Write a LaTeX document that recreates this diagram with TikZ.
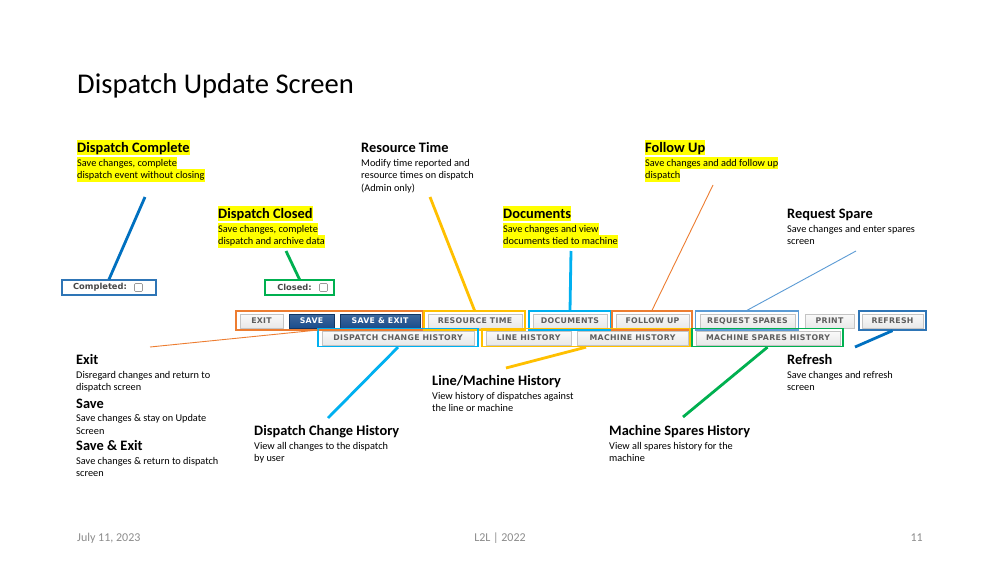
\documentclass[tikz,border=0pt]{standalone}
\usepackage{fontspec}
\setmainfont{Carlito}
\newfontfamily\btnfont{DejaVu Sans}[LetterSpace=4]
\newfontfamily\chkfont{DejaVu Sans}
\definecolor{hlyellow}{HTML}{FFFF00}
\definecolor{corange}{HTML}{ED7D31}
\definecolor{cgold}{HTML}{FFC000}
\definecolor{clblue}{HTML}{00B0F0}
\definecolor{csteel}{HTML}{5B9BD5}
\definecolor{cblue}{HTML}{2E75B6}
\definecolor{cdblue}{HTML}{0070C0}
\definecolor{cgreen}{HTML}{00B050}
\definecolor{btnblue}{HTML}{1B4D8C}
\definecolor{btntext}{HTML}{5E5E5E}
\definecolor{btnedge}{HTML}{C4C4C4}
\definecolor{footgray}{HTML}{8C8C8C}
\setlength{\fboxsep}{0pt}
\newcommand\hlh[1]{\colorbox{hlyellow}{\rule[-3pt]{0pt}{15pt}#1}}
\newcommand\hl[1]{\colorbox{hlyellow}{\rule[-3pt]{0pt}{12.5pt}#1}}
\newcommand\nl[1]{\rule[-3pt]{0pt}{12.5pt}#1}
\tikzset{
  head/.style={anchor=base west, inner sep=0pt, font=\fontsize{14.4}{15}\selectfont\bfseries},
  body/.style={anchor=north west, inner sep=0pt, align=left, font=\fontsize{10.3}{12.5}\selectfont},
  btn/.style={draw=btnedge, line width=0.6pt, top color=white!96!gray, bottom color=white!82!gray,
    minimum height=14, inner sep=0pt, text=btntext, font=\btnfont\fontsize{7.8}{9}\selectfont\bfseries},
  dbtn/.style={btn, draw=btnblue!70!black, top color=btnblue!85!white, bottom color=btnblue, text=white},
  grp/.style={draw=#1, line width=1.3pt, inner sep=0pt},
  thickconn/.style={draw=#1, line width=2.8pt},
  thinconn/.style={draw=#1, line width=0.9pt},
  chk/.style={draw=gray!80, line width=0.6pt, rounded corners=1pt, minimum size=8, inner sep=0pt},
  chklabel/.style={inner sep=0pt, text=black!72, font=\chkfont\fontsize{8.3}{9}\selectfont\bfseries},
  foot/.style={inner sep=0pt, text=footgray, font=\fontsize{12}{14}\selectfont}
}
\begin{document}
\begin{tikzpicture}[x=1pt,y=-1pt]
\useasboundingbox (0,0) rectangle (1000,562);
\fill[white] (0,0) rectangle (1000,562);

% title
\node[anchor=base west, inner sep=0pt, font=\fontsize{28.6}{30}\selectfont] (title) at (77,93) {Dispatch Update Screen};

% checkbox fields
\node[grp=cblue, minimum width=94, minimum height=15] (completed) at (109,287.5) {};
\node[chklabel] (completedtxt) at (100,287.5) {Completed:};
\node[chk] (completedchk) at (138.5,287.5) {};
\node[grp=cgreen, minimum width=69, minimum height=15] (closed) at (299.5,287.5) {};
\node[chklabel] (closedtxt) at (294.5,287.5) {Closed:};
\node[chk] (closedchk) at (323.5,287.5) {};

% row 1 buttons
\node[btn, minimum width=43] (exit) at (261.5,321) {EXIT};
\node[dbtn, minimum width=45] (save) at (311.5,321) {SAVE};
\node[dbtn, minimum width=80] (saveexit) at (380,321) {SAVE \& EXIT};
\node[btn, minimum width=94] (rtime) at (475,321) {RESOURCE TIME};
\node[btn, minimum width=74] (docs) at (570,321) {DOCUMENTS};
\node[btn, minimum width=73] (follow) at (652.5,321) {FOLLOW UP};
\node[btn, minimum width=95] (reqsp) at (747.5,321) {REQUEST SPARES};
\node[btn, minimum width=49] (print) at (829.5,321) {PRINT};
\node[btn, minimum width=61] (refresh) at (892.5,321) {REFRESH};

% row 2 buttons
\node[btn, minimum width=152] (dch) at (398,338) {DISPATCH CHANGE HISTORY};
\node[btn, minimum width=85] (linehist) at (528.5,338) {LINE HISTORY};
\node[btn, minimum width=111] (machhist) at (632.5,338) {MACHINE HISTORY};
\node[btn, minimum width=144] (msh) at (768,338) {MACHINE SPARES HISTORY};

% group outlines
\node[grp=corange, minimum width=187, minimum height=19] (gexit) at (329.5,320.5) {};
\node[grp=cgold, minimum width=101, minimum height=19] (grt) at (474.5,320.5) {};
\node[grp=clblue, minimum width=82, minimum height=19] (gdocs) at (570,320.5) {};
\node[grp=corange, minimum width=80, minimum height=19] (gfu) at (652,320.5) {};
\node[grp=csteel, minimum width=103, minimum height=19] (grs) at (747,320.5) {};
\node[grp=cblue, minimum width=67, minimum height=19] (gref) at (892.5,320.5) {};
\node[grp=clblue, minimum width=160, minimum height=18] (gdch) at (398,337.5) {};
\node[grp=cgold, minimum width=208, minimum height=18] (glm) at (586,337.5) {};
\node[grp=cgreen, minimum width=151, minimum height=18] (gmsh) at (767.5,337.5) {};

% descriptions (top)
\node[head] (hdc) at (77,152) {\hlh{Dispatch Complete}};
\node[body] (bdc) at (77,156.5) {\hl{Save changes, complete}\\\hl{dispatch event without closing}};
\node[head] (hcl) at (218,218) {\hlh{Dispatch Closed}};
\node[body] (bcl) at (218,222.5) {\hl{Save changes, complete}\\\hl{dispatch and archive data}};
\node[head] (hrt) at (361,152) {Resource Time};
\node[body] (brt) at (361,156.5) {\nl{Modify time reported and}\\\nl{resource times on dispatch}\\\nl{(Admin only)}};
\node[head] (hdo) at (503,218) {\hlh{Documents}};
\node[body] (bdo) at (503,222.5) {\hl{Save changes and view}\\\hl{documents tied to machine}};
\node[head] (hfu) at (645,152) {\hlh{Follow Up}};
\node[body] (bfu) at (645,156.5) {\hl{Save changes and add follow up}\\\hl{dispatch}};
\node[head] (hrs) at (787,218) {Request Spare};
\node[body] (brs) at (787,222.5) {\nl{Save changes and enter spares}\\\nl{screen}};

% descriptions (bottom)
\node[head] (hex) at (76,364) {Exit};
\node[body] (bex) at (76,368.5) {\nl{Disregard changes and return to}\\\nl{dispatch screen}};
\node[head] (hsv) at (76,408) {Save};
\node[body] (bsv) at (76,412) {\nl{Save changes \& stay on Update}\\\nl{Screen}};
\node[head] (hse) at (76,450) {Save \& Exit};
\node[body] (bse) at (76,454.5) {\nl{Save changes \& return to dispatch}\\\nl{screen}};
\node[head] (hdch) at (254,435) {Dispatch Change History};
\node[body] (bdch) at (254,439.5) {\nl{View all changes to the dispatch}\\\nl{by user}};
\node[head] (hlm) at (432,385) {Line/Machine History};
\node[body] (blm) at (432,389.5) {\nl{View history of dispatches against}\\\nl{the line or machine}};
\node[head] (hmsh) at (609,435) {Machine Spares History};
\node[body] (bmsh) at (609,439.5) {\nl{View all spares history for the}\\\nl{machine}};
\node[head] (href) at (787,364) {Refresh};
\node[body] (bref) at (787,368.5) {\nl{Save changes and refresh}\\\nl{screen}};

% connector free ends
\coordinate (cdc) at (145,197);
\coordinate (ccl) at (286,251);
\coordinate (crt) at (430,197);
\coordinate (cdo) at (571,251);
\coordinate (cfu) at (713,185);
\coordinate (crs) at (856,251);
\coordinate (cex) at (150,347);
\coordinate (cexend) at (318,330);
\coordinate (cdch) at (328,418);
\coordinate (clm) at (506,368);
\coordinate (cmsh) at (683,417);
\coordinate (cref) at (855,347);

% connectors
\draw[thickconn=cdblue] (cdc) -- (completed.north);
\draw[thickconn=cgreen] (ccl) -- (closed.north);
\draw[thickconn=cgold] (crt) -- (grt.north);
\draw[thickconn=clblue] (cdo) -- (gdocs.north);
\draw[thinconn=corange] (cfu) -- (gfu.north);
\draw[thinconn=csteel] (crs) -- (grs.north);
\draw[thinconn=corange] (cex) -- (cexend);
\draw[thickconn=clblue] (cdch) -- (gdch.south);
\draw[thickconn=cgold] (clm) -- (glm.south);
\draw[thickconn=cgreen] (cmsh) -- (gmsh.south);
\draw[thickconn=cdblue] (cref) -- (gref.south);

% footer
\node[foot, anchor=base west] (fdate) at (77,541) {July 11, 2023};
\node[foot, anchor=base] (fmid) at (500,541) {L2L | 2022};
\node[foot, anchor=base east] (fpage) at (923,541) {11};
\end{tikzpicture}
\end{document}
